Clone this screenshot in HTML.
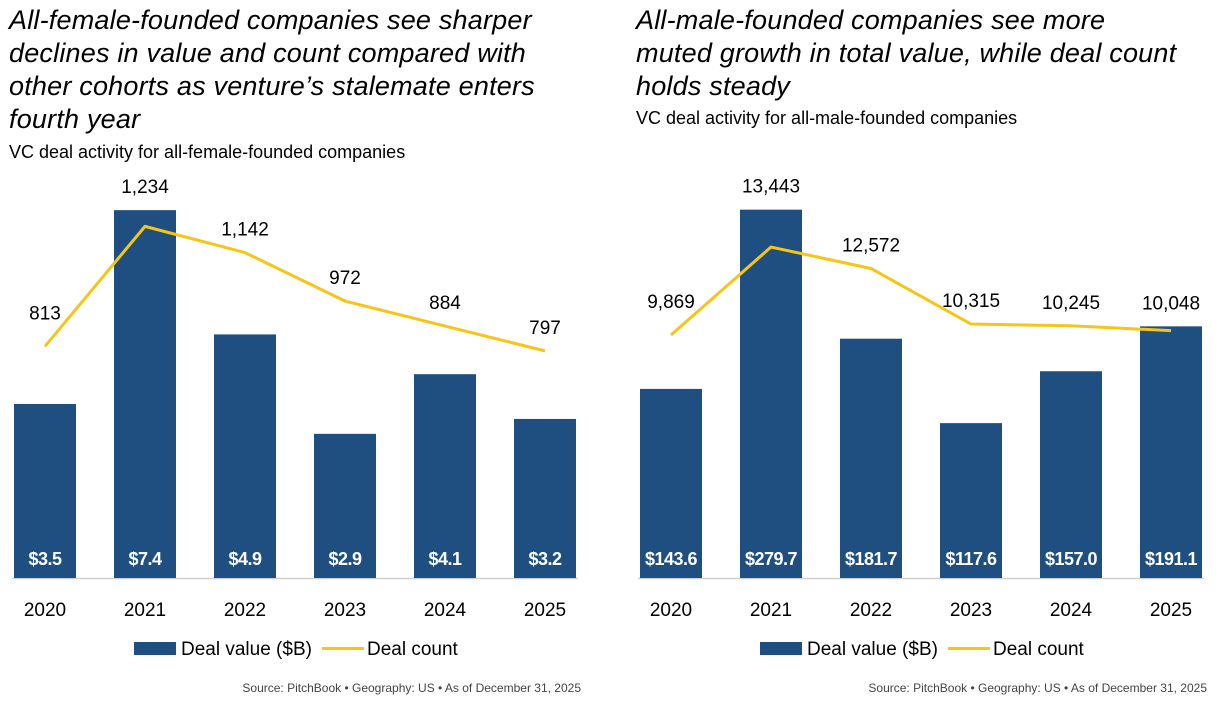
<!DOCTYPE html>
<html><head><meta charset="utf-8"><style>
body{margin:0;background:#fff;width:1228px;height:704px;overflow:hidden;font-family:"Liberation Sans Narrow","Liberation Sans",sans-serif;}
.t{position:absolute;font-style:italic;font-size:27px;line-height:33px;color:#000;letter-spacing:0.2px;white-space:nowrap;}
.s{position:absolute;font-size:18px;color:#000;}
svg{position:absolute;left:0;top:0}
</style></head><body>
<div class="t" style="left:9px;top:4px">All-female-founded companies see sharper<br>declines in value and count compared with<br>other cohorts as venture’s stalemate enters<br>fourth year</div>
<div class="s" style="left:9px;top:142px">VC deal activity for all-female-founded companies</div>
<div class="t" style="left:636px;top:4px">All-male-founded companies see more<br>muted growth in total value, while deal count<br>holds steady</div>
<div class="s" style="left:636px;top:108px">VC deal activity for all-male-founded companies</div>
<svg id="chart" width="1228" height="704"></svg>
<script>
const years=["2020","2021","2022","2023","2024","2025"];
const femaleValue=[3.5,7.4,4.9,2.9,4.1,3.2];
const femaleCount=[813,1234,1142,972,884,797];
const maleValue=[143.6,279.7,181.7,117.6,157.0,191.1];
const maleCount=[9869,13443,12572,10315,10245,10048];
const femaleValueLabels=["$3.5","$7.4","$4.9","$2.9","$4.1","$3.2"];
const maleValueLabels=["$143.6","$279.7","$181.7","$117.6","$157.0","$191.1"];

const NS="http://www.w3.org/2000/svg";
const svg=document.getElementById('chart');
function mk(tag,attrs,text){const e=document.createElementNS(NS,tag);for(const k in attrs)e.setAttribute(k,attrs[k]);if(text!=null)e.textContent=text;svg.appendChild(e);return e;}
const BASE=578,TOP=150;
function drawChart(x0,vals,counts,vlabels,barMax,lineMax,prefix,fmt){
  const x=i=>x0+i*100;
  const yb=v=>BASE-v/barMax*(BASE-TOP);
  const yl=v=>BASE-v/lineMax*(BASE-TOP);
  let ln=mk('line',{x1:x0-33,x2:x0+533,y1:BASE+0.5,y2:BASE+0.5,stroke:'#d0d0d0','stroke-width':1.5});
  
  vals.forEach((v,i)=>{
    const r=mk('rect',{x:x(i)-31,y:yb(v),width:62,height:BASE-yb(v),fill:'#1f4e80'});
    
    const t=mk('text',{x:x(i),y:565,'text-anchor':'middle','font-size':18,'font-weight':'bold',fill:'#fff','letter-spacing':'-0.5'},vlabels[i]);
    
    const yt=mk('text',{x:x(i),y:616,'text-anchor':'middle','font-size':19,fill:'#000'},years[i]);
    
  });
  const pts=counts.map((c,i)=>x(i)+','+yl(c)).join(' ');
  const pl=mk('polyline',{points:pts,fill:'none',stroke:'#f5c518','stroke-width':3,'stroke-linejoin':'round'});
  
  counts.forEach((c,i)=>{
    const y=Math.min(yl(c),yb(vals[i]))-(i==0?27:17);
    const t=mk('text',{x:x(i),y:y,'text-anchor':'middle','font-size':19,fill:'#000'},fmt(c));
    
  });
  const lx=x0+89;
  const sw=mk('rect',{x:lx,y:642,width:42,height:13,fill:'#1f4e80'});
  
  const lt=mk('text',{x:lx+47,y:655,'font-size':19,fill:'#000'},'Deal value ($B)');
  
  const ll=mk('line',{x1:lx+188,x2:lx+230,y1:648.5,y2:648.5,stroke:'#f5c518','stroke-width':3});
  
  const lt2=mk('text',{x:lx+233,y:655,'font-size':19,fill:'#000'},'Deal count');
  
  const src=mk('text',{x:x0+536,y:692,'text-anchor':'end','font-size':12,fill:'#444'},'Source: PitchBook  •  Geography: US  •  As of December 31, 2025');
  
}
const f=n=>n.toLocaleString('en-US');
drawChart(45,femaleValue,femaleCount,femaleValueLabels,8.61,1502,'female',f);
drawChart(671,maleValue,maleCount,maleValueLabels,325,17385,'male',f);
</script>
</body></html>
